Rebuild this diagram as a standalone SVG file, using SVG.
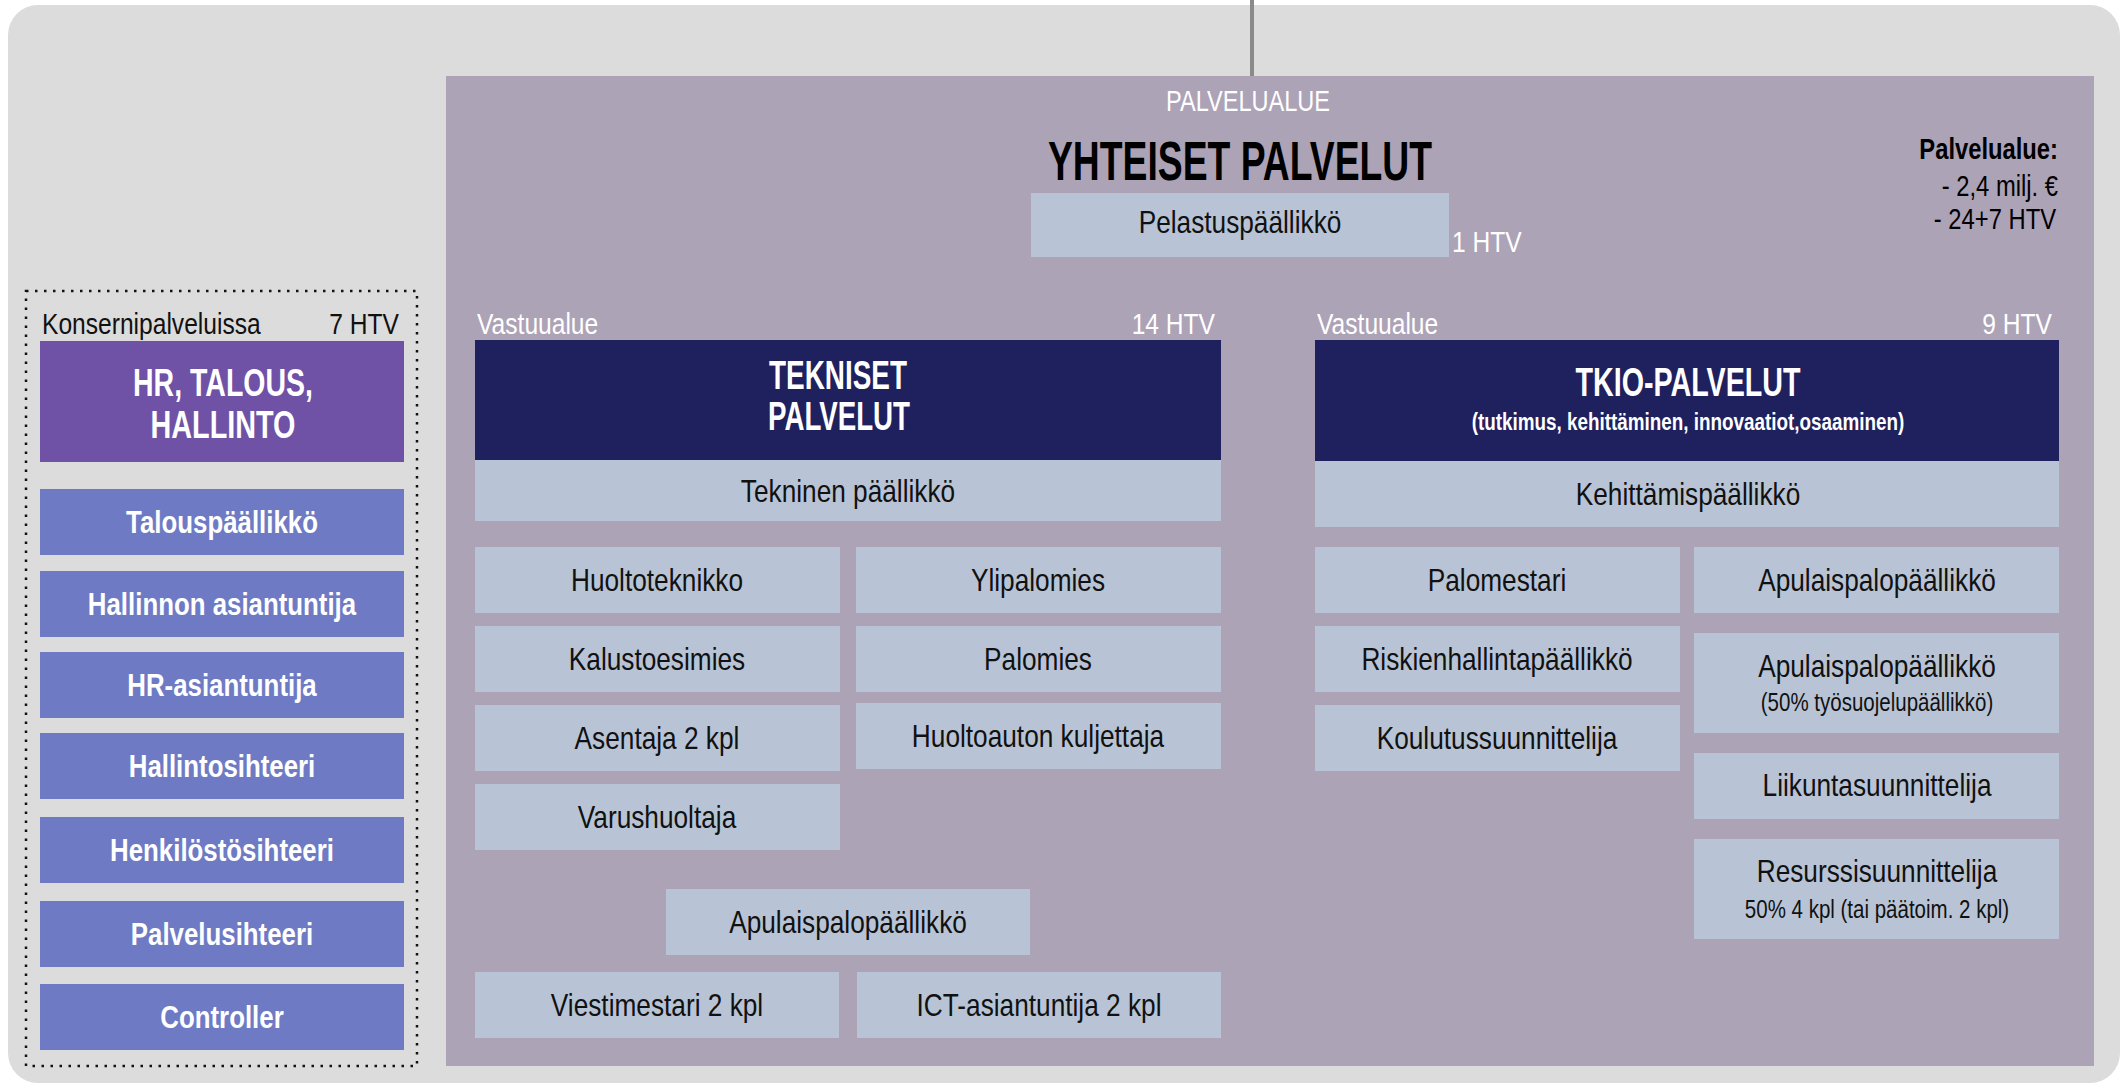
<svg xmlns="http://www.w3.org/2000/svg" width="2121" height="1084" viewBox="0 0 2121 1084">
<style>
text{font-family:'Liberation Sans','Arial',sans-serif;}
.lb{fill:#b8c4d5;}
.nv{fill:#1f215e;}
.pb{fill:#6e7bc4;}
.t{font-size:32px;fill:#111;text-anchor:middle;}
.s{font-size:25px;fill:#111;text-anchor:middle;}
.w{font-size:31.5px;fill:#fff;text-anchor:middle;font-weight:bold;}
.h{font-size:30px;fill:#fff;}
.k{font-size:30px;fill:#111;}
.cap{font-weight:bold;fill:#fff;text-anchor:middle;}
</style>
<rect x="8" y="5" width="2112" height="1078" rx="30" fill="#dcdcdc"/>
<g id="connectors">
<line x1="1252" y1="0" x2="1252" y2="76" stroke="#8a8a8a" stroke-width="4"/>
</g>
<g id="konserni">
<rect x="26" y="291" width="391" height="775" fill="none" stroke="#111" stroke-width="2.5" stroke-dasharray="2.5 6.5"/>
<text class="k" transform="translate(42 334) scale(0.82 1)">Konsernipalveluissa</text>
<text class="k" transform="translate(399 334) scale(0.82 1)" text-anchor="end">7 HTV</text>
</g>
<g id="hr">
<rect x="40" y="341" width="364" height="121" fill="#6f51a6"/>
<text class="cap" x="223" y="396" font-size="38" textLength="180" lengthAdjust="spacingAndGlyphs">HR, TALOUS,</text>
<text class="cap" x="223" y="438" font-size="38" textLength="145" lengthAdjust="spacingAndGlyphs">HALLINTO</text>
</g>
<g id="talouspaallikko"><rect class="pb" x="40" y="489" width="364" height="66"/><text class="w" transform="translate(222 533) scale(0.82 1)">Talouspäällikkö</text></g>
<g id="hallinnon-asiantuntija"><rect class="pb" x="40" y="571" width="364" height="66"/><text class="w" transform="translate(222 615) scale(0.82 1)">Hallinnon asiantuntija</text></g>
<g id="hr-asiantuntija"><rect class="pb" x="40" y="652" width="364" height="66"/><text class="w" transform="translate(222 696) scale(0.82 1)">HR-asiantuntija</text></g>
<g id="hallintosihteeri"><rect class="pb" x="40" y="733" width="364" height="66"/><text class="w" transform="translate(222 777) scale(0.82 1)">Hallintosihteeri</text></g>
<g id="henkilostosihteeri"><rect class="pb" x="40" y="817" width="364" height="66"/><text class="w" transform="translate(222 861) scale(0.82 1)">Henkilöstösihteeri</text></g>
<g id="palvelusihteeri"><rect class="pb" x="40" y="901" width="364" height="66"/><text class="w" transform="translate(222 945) scale(0.82 1)">Palvelusihteeri</text></g>
<g id="controller"><rect class="pb" x="40" y="984" width="364" height="66"/><text class="w" transform="translate(222 1028) scale(0.82 1)">Controller</text></g>

<g id="yhteiset">
<rect x="446" y="76" width="1648" height="990" fill="#ada3b7"/>
<text class="h" x="1248" y="111" text-anchor="middle" font-size="28" textLength="164" lengthAdjust="spacingAndGlyphs">PALVELUALUE</text>
<text x="1240" y="180" font-size="56" font-weight="bold" fill="#000" text-anchor="middle" textLength="384" lengthAdjust="spacingAndGlyphs">YHTEISET PALVELUT</text>
<text transform="translate(2058 159) scale(0.82 1)" font-size="29" font-weight="bold" fill="#000" text-anchor="end">Palvelualue:</text>
<text transform="translate(2058 196) scale(0.82 1)" font-size="29" fill="#000" text-anchor="end">- 2,4 milj. €</text>
<text transform="translate(2056 229) scale(0.82 1)" font-size="29" fill="#000" text-anchor="end">- 24+7 HTV</text>
</g>
<g id="pelastuspaallikko">
<rect class="lb" x="1031" y="193" width="418" height="64"/>
<text class="t" transform="translate(1240 233) scale(0.82 1)">Pelastuspäällikkö</text>
<text class="h" transform="translate(1452 252) scale(0.82 1)">1 HTV</text>
</g>

<g id="tekniset">
<text class="h" transform="translate(477 334) scale(0.82 1)">Vastuualue</text>
<text class="h" transform="translate(1215 334) scale(0.82 1)" text-anchor="end">14 HTV</text>
<rect class="nv" x="475" y="340" width="746" height="120"/>
<text class="cap" x="838" y="389" font-size="40" textLength="138" lengthAdjust="spacingAndGlyphs">TEKNISET</text>
<text class="cap" x="839" y="430" font-size="40" textLength="142" lengthAdjust="spacingAndGlyphs">PALVELUT</text>
</g>
<g id="tekninen-paallikko"><rect class="lb" x="475" y="460" width="746" height="61"/><text class="t" transform="translate(848 502) scale(0.82 1)">Tekninen päällikkö</text></g>
<g id="huoltoteknikko"><rect class="lb" x="475" y="547" width="365" height="66"/><text class="t" transform="translate(657 591) scale(0.82 1)">Huoltoteknikko</text></g>
<g id="ylipalomies"><rect class="lb" x="856" y="547" width="365" height="66"/><text class="t" transform="translate(1038 591) scale(0.82 1)">Ylipalomies</text></g>
<g id="kalustoesimies"><rect class="lb" x="475" y="626" width="365" height="66"/><text class="t" transform="translate(657 670) scale(0.82 1)">Kalustoesimies</text></g>
<g id="palomies"><rect class="lb" x="856" y="626" width="365" height="66"/><text class="t" transform="translate(1038 670) scale(0.82 1)">Palomies</text></g>
<g id="asentaja"><rect class="lb" x="475" y="705" width="365" height="66"/><text class="t" transform="translate(657 749) scale(0.82 1)">Asentaja 2 kpl</text></g>
<g id="huoltoauton-kuljettaja"><rect class="lb" x="856" y="703" width="365" height="66"/><text class="t" transform="translate(1038 747) scale(0.82 1)">Huoltoauton kuljettaja</text></g>
<g id="varushuoltaja"><rect class="lb" x="475" y="784" width="365" height="66"/><text class="t" transform="translate(657 828) scale(0.82 1)">Varushuoltaja</text></g>
<g id="apulaispalopaallikko-t"><rect class="lb" x="666" y="889" width="364" height="66"/><text class="t" transform="translate(848 933) scale(0.82 1)">Apulaispalopäällikkö</text></g>
<g id="viestimestari"><rect class="lb" x="475" y="972" width="364" height="66"/><text class="t" transform="translate(657 1016) scale(0.82 1)">Viestimestari 2 kpl</text></g>
<g id="ict-asiantuntija"><rect class="lb" x="857" y="972" width="364" height="66"/><text class="t" transform="translate(1039 1016) scale(0.82 1)">ICT-asiantuntija 2 kpl</text></g>

<g id="tkio">
<text class="h" transform="translate(1317 334) scale(0.82 1)">Vastuualue</text>
<text class="h" transform="translate(2052 334) scale(0.82 1)" text-anchor="end">9 HTV</text>
<rect class="nv" x="1315" y="340" width="744" height="121"/>
<text class="cap" x="1688" y="396" font-size="40" textLength="225" lengthAdjust="spacingAndGlyphs">TKIO-PALVELUT</text>
<text class="cap" transform="translate(1688 430) scale(0.82 1)" font-size="23">(tutkimus, kehittäminen, innovaatiot,osaaminen)</text>
</g>
<g id="kehittamispaallikko"><rect class="lb" x="1315" y="461" width="744" height="66"/><text class="t" transform="translate(1688 505) scale(0.82 1)">Kehittämispäällikkö</text></g>
<g id="palomestari"><rect class="lb" x="1315" y="547" width="365" height="66"/><text class="t" transform="translate(1497 591) scale(0.82 1)">Palomestari</text></g>
<g id="apulaispalopaallikko-1"><rect class="lb" x="1694" y="547" width="365" height="66"/><text class="t" transform="translate(1877 591) scale(0.82 1)">Apulaispalopäällikkö</text></g>
<g id="riskienhallintapaallikko"><rect class="lb" x="1315" y="626" width="365" height="66"/><text class="t" transform="translate(1497 670) scale(0.82 1)">Riskienhallintapäällikkö</text></g>
<g id="koulutussuunnittelija"><rect class="lb" x="1315" y="705" width="365" height="66"/><text class="t" transform="translate(1497 749) scale(0.82 1)">Koulutussuunnittelija</text></g>
<g id="apulaispalopaallikko-2"><rect class="lb" x="1694" y="633" width="365" height="100"/><text class="t" transform="translate(1877 677) scale(0.82 1)">Apulaispalopäällikkö</text><text class="s" transform="translate(1877 711) scale(0.82 1)">(50% työsuojelupäällikkö)</text></g>
<g id="liikuntasuunnittelija"><rect class="lb" x="1694" y="753" width="365" height="66"/><text class="t" transform="translate(1877 796) scale(0.82 1)">Liikuntasuunnittelija</text></g>
<g id="resurssisuunnittelija"><rect class="lb" x="1694" y="839" width="365" height="100"/><text class="t" transform="translate(1877 882) scale(0.82 1)">Resurssisuunnittelija</text><text class="s" transform="translate(1877 918) scale(0.82 1)">50% 4 kpl (tai päätoim. 2 kpl)</text></g>
</svg>
